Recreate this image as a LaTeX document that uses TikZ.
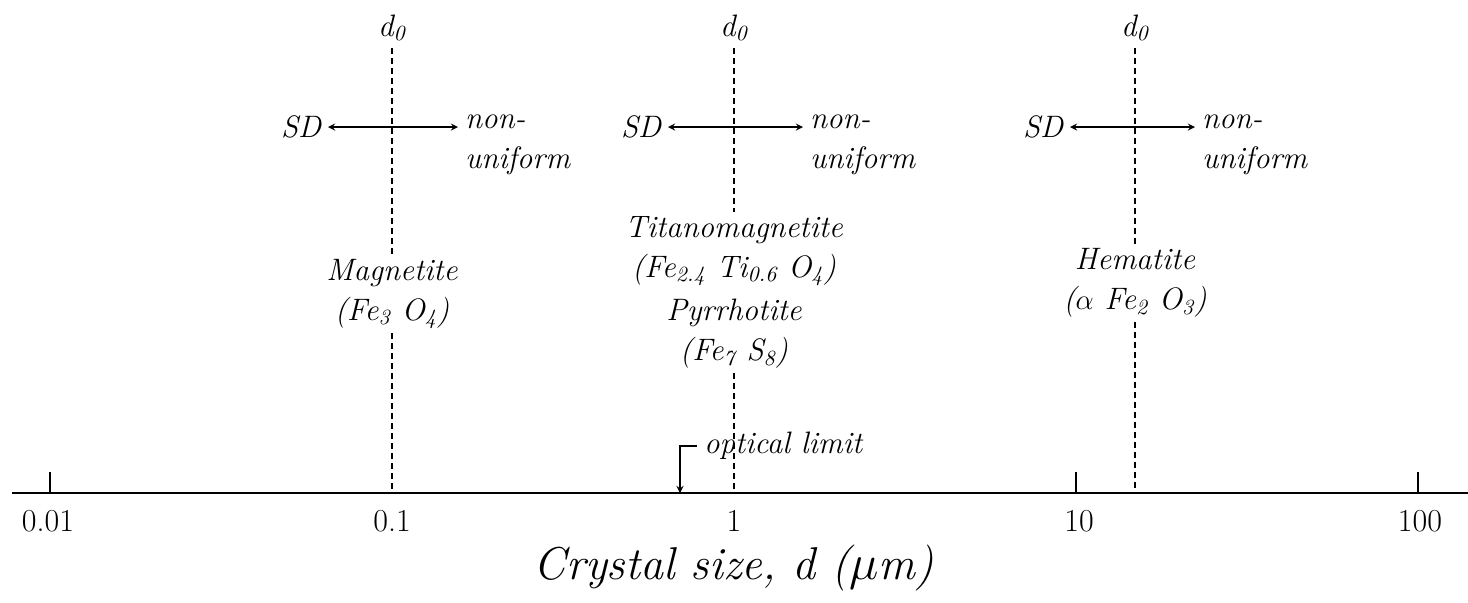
\documentclass[tikz,border=0pt]{standalone}
\usetikzlibrary{arrows}
\tikzset{
  guide/.style={line width=0.7pt,dash pattern=on 3pt off 2pt},
  axisline/.style={line width=0.9pt},
  mineral/.style={align=center,inner sep=2pt},
  numlabel/.style={font=\fontsize{16}{19}\selectfont\upshape}
}
\begin{document}
\begin{tikzpicture}[x=0.5pt,y=-0.5pt,>=stealth,font=\fontsize{15.5}{20}\selectfont\itshape]
\useasboundingbox (0,0) rectangle (1468,602);
% axis
\coordinate (axl) at (12,493);
\coordinate (axr) at (1468,493);
\draw[axisline] (axl)--(axr);
\foreach \x in {50,1076,1418}
  \draw[line width=0.6pt] (\x,493)--(\x,472);
\node[numlabel] (n001) at (48,521) {0.01};
\node[numlabel] (n01) at (392,521) {0.1};
\node[numlabel] (n1) at (734,521) {1};
\node[numlabel] (n10) at (1079,521) {10};
\node[numlabel] (n100) at (1420,521) {100};
\node (title) at (734,568) {\fontsize{23}{26}\selectfont Crystal size, d ($\mu$m)};
% magnetite
\node (d0a) at (392,28) {d\textsubscript{0}};
\node[mineral] (mag) at (392,294) {Magnetite\\(Fe\textsubscript{3} O\textsubscript{4})};
\coordinate (ba) at (392,493);
\coordinate (ca) at (392,127);
\draw[guide] (d0a)--(mag);
\draw[guide] (mag)--(ba);
\node[anchor=east] (sda) at (328,127) {SD};
\node[anchor=west,align=left] (nua) at (458,145) {non-\\uniform};
\draw[->,line width=0.6pt] (ca)--(sda);
\draw[->,line width=0.6pt] (ca)--(ca-|nua.west);
% titanomagnetite, pyrrhotite
\node (d0b) at (734,28) {d\textsubscript{0}};
\node[mineral] (tit) at (734,251) {Titanomagnetite\\(Fe\textsubscript{2.4} Ti\textsubscript{0.6} O\textsubscript{4})};
\node[mineral] (pyr) at (734,334) {Pyrrhotite\\(Fe\textsubscript{7} S\textsubscript{8})};
\coordinate (bb) at (734,493);
\coordinate (cb) at (734,127);
\draw[guide] (d0b)--(tit);
\draw[guide] (pyr)--(bb);
\node[anchor=east] (sdb) at (668,127) {SD};
\node[anchor=west,align=left] (nub) at (803,145) {non-\\uniform};
\draw[->,line width=0.6pt] (cb)--(sdb);
\draw[->,line width=0.6pt] (cb)--(cb-|nub.west);
% hematite
\node (d0c) at (1135,28) {d\textsubscript{0}};
\node[mineral] (hem) at (1135,283) {Hematite\\($\alpha$ Fe\textsubscript{2} O\textsubscript{3})};
\coordinate (bc) at (1135,493);
\coordinate (cc) at (1135,127);
\draw[guide] (d0c)--(hem);
\draw[guide] (hem)--(bc);
\node[anchor=east] (sdc) at (1070,127) {SD};
\node[anchor=west,align=left] (nuc) at (1195,145) {non-\\uniform};
\draw[->,line width=0.6pt] (cc)--(sdc);
\draw[->,line width=0.6pt] (cc)--(cc-|nuc.west);
% optical limit
\coordinate (opt) at (680,493);
\node[anchor=west] (optl) at (697,446) {optical limit};
\draw[->,line width=0.6pt] (optl.west)-|(opt);
\end{tikzpicture}
\end{document}
